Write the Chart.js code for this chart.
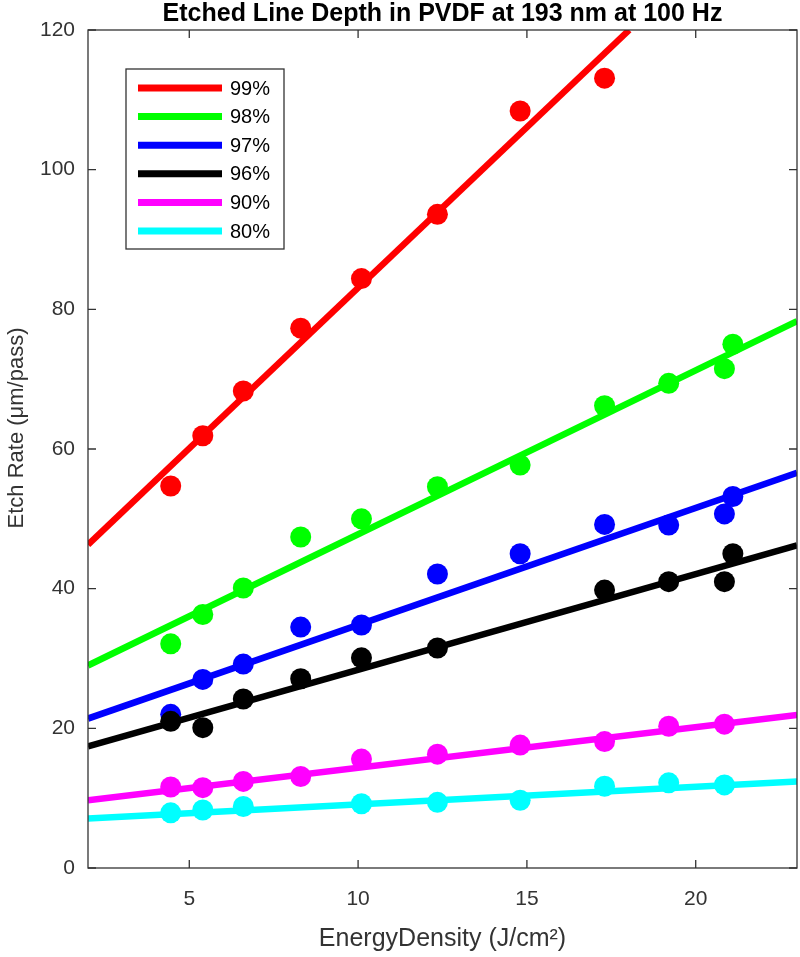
<!DOCTYPE html>
<html>
<head>
<meta charset="utf-8">
<script src="https://cdn.jsdelivr.net/npm/chart.js@4/dist/chart.umd.min.js"></script>
<style>
    html, body { margin: 0; padding: 0; background: #fff; overflow: hidden; }
    #wrap { width: 800px; height: 957px; }
</style>
</head>
<body>
<div id="wrap"><canvas id="etchChart"></canvas></div>
<script>
// --- DATA ---
const seriesNames = ["99%", "98%", "97%", "96%", "90%", "80%"];
const seriesColors = ["#ff0000", "#00ff00", "#0000ff", "#000000", "#ff00ff", "#00ffff"];

const x99 = [4.45, 5.4, 6.6, 8.3, 10.1, 12.35, 14.8, 17.3];
const y99 = [54.7, 61.9, 68.3, 77.3, 84.4, 93.6, 108.4, 113.1];

const x98 = [4.45, 5.4, 6.6, 8.3, 10.1, 12.35, 14.8, 17.3, 19.2, 20.85, 21.1];
const y98 = [32.1, 36.3, 40.1, 47.4, 50.0, 54.6, 57.7, 66.2, 69.4, 71.5, 75.0];

const x97 = [4.45, 5.4, 6.6, 8.3, 10.1, 12.35, 14.8, 17.3, 19.2, 20.85, 21.1];
const y97 = [22.0, 27.0, 29.2, 34.5, 34.8, 42.1, 45.0, 49.2, 49.1, 50.7, 53.2];

const x96 = [4.45, 5.4, 6.6, 8.3, 10.1, 12.35, 17.3, 19.2, 20.85, 21.1];
const y96 = [21.0, 20.1, 24.2, 27.1, 30.1, 31.5, 39.8, 41.0, 41.0, 45.0];

const x90 = [4.45, 5.4, 6.6, 8.3, 10.1, 12.35, 14.8, 17.3, 19.2, 20.85];
const y90 = [11.6, 11.5, 12.4, 13.1, 15.6, 16.3, 17.6, 18.1, 20.3, 20.6];

const x80 = [4.45, 5.4, 6.6, 10.1, 12.35, 14.8, 17.3, 19.2, 20.85];
const y80 = [7.9, 8.3, 8.8, 9.2, 9.4, 9.7, 11.7, 12.2, 11.9];

// fitted lines, endpoints as drawn
const fitStartX = [2, 2, 2, 2, 2, 2];
const fitStartY = [46.3, 29.0, 21.4, 17.4, 9.7, 7.1];
const fitEndX = [18.03, 23, 23, 23, 23, 23];
const fitEndY = [120, 78.3, 56.6, 46.2, 21.9, 12.4];

const xTicks = [5, 10, 15, 20];
const yTicks = [0, 20, 40, 60, 80, 100, 120];

const titleText = "Etched Line Depth in PVDF at 193 nm at 100 Hz";
const xTitle = "EnergyDensity (J/cm\u00B2)";
const yTitle = "Etch Rate (\u03BCm/pass)";

const FONT = "'Liberation Sans', Helvetica, Arial, sans-serif";
const AXIS_COLOR = "#333333";

const pointXs = [x99, x98, x97, x96, x90, x80];
const pointYs = [y99, y98, y97, y96, y90, y80];

document.addEventListener("DOMContentLoaded", () => {
    drawChart();
});

function buildDatasets() {
    const sets = [];
    seriesNames.forEach((name, i) => {
        const rank = seriesNames.length - 1 - i; // later series on top
        sets.push({
            label: name,
            isFit: true,
            data: [{ x: fitStartX[i], y: fitStartY[i] }, { x: fitEndX[i], y: fitEndY[i] }],
            borderColor: seriesColors[i],
            borderWidth: 6.5,
            pointRadius: 0,
            showLine: true,
            fill: false,
            clip: 0,
            order: rank * 2 + 1
        });
        sets.push({
            label: name + " data",
            data: pointXs[i].map((x, k) => ({ x: x, y: pointYs[i][k] })),
            backgroundColor: seriesColors[i],
            borderColor: seriesColors[i],
            borderWidth: 0,
            pointRadius: 10.5,
            showLine: false,
            order: rank * 2
        });
    });
    return sets;
}

// box, inward ticks, title, y label and legend
const framePlugin = {
    id: "frame",
    afterDraw(chart) {
        const ctx = chart.ctx;
        const a = chart.chartArea;
        const xs = chart.scales.x, ys = chart.scales.y;
        const tl = 8;
        ctx.save();
        ctx.strokeStyle = AXIS_COLOR;
        ctx.lineWidth = 1.3;
        ctx.strokeRect(a.left, a.top, a.right - a.left, a.bottom - a.top);
        ctx.beginPath();
        xTicks.forEach(v => {
            const px = xs.getPixelForValue(v);
            ctx.moveTo(px, a.bottom); ctx.lineTo(px, a.bottom - tl);
            ctx.moveTo(px, a.top); ctx.lineTo(px, a.top + tl);
        });
        yTicks.forEach(v => {
            const py = ys.getPixelForValue(v);
            ctx.moveTo(a.left, py); ctx.lineTo(a.left + tl, py);
            ctx.moveTo(a.right, py); ctx.lineTo(a.right - tl, py);
        });
        ctx.stroke();

        // title
        ctx.fillStyle = "#000";
        ctx.font = "bold 25px " + FONT;
        ctx.textAlign = "center";
        ctx.textBaseline = "alphabetic";
        ctx.fillText(titleText, (a.left + a.right) / 2, 21);

        // y axis title
        ctx.save();
        ctx.translate(23, 428);
        ctx.rotate(-Math.PI / 2);
        ctx.fillStyle = AXIS_COLOR;
        ctx.font = "22px " + FONT;
        ctx.textBaseline = "alphabetic";
        ctx.fillText(yTitle, 0, 0);
        ctx.restore();

        // legend
        const lx = 126, ly = 69, lw = 158, lh = 180;
        ctx.fillStyle = "#fff";
        ctx.fillRect(lx, ly, lw, lh);
        ctx.strokeStyle = AXIS_COLOR;
        ctx.lineWidth = 1.3;
        ctx.strokeRect(lx, ly, lw, lh);
        ctx.font = "20px " + FONT;
        ctx.textAlign = "left";
        ctx.textBaseline = "middle";
        const fits = chart.data.datasets.filter(d => d.isFit);
        fits.forEach((d, i) => {
            const rowY = 88 + i * 28.6;
            ctx.strokeStyle = d.borderColor;
            ctx.lineWidth = 7;
            ctx.beginPath();
            ctx.moveTo(138, rowY); ctx.lineTo(222, rowY);
            ctx.stroke();
            ctx.fillStyle = "#000";
            ctx.fillText(d.label, 230, rowY + 1);
        });
        ctx.restore();
    }
};

function drawChart() {
    new Chart(document.getElementById("etchChart"), {
        type: "scatter",
        data: { datasets: buildDatasets() },
        options: {
            responsive: true,
            maintainAspectRatio: false,
            animation: false,
            layout: { autoPadding: false, padding: { top: 30, right: 3, left: 0, bottom: 0 } },
            plugins: {
                legend: { display: false },
                title: { display: false },
                tooltip: { enabled: false }
            },
            scales: {
                x: {
                    type: "linear",
                    min: 2, max: 23,
                    afterBuildTicks: s => { s.ticks = xTicks.map(v => ({ value: v })); },
                    afterFit: s => { s.height = 89; s.paddingLeft = 0; s.paddingRight = 0; },
                    grid: { display: false, drawTicks: false },
                    border: { display: false },
                    ticks: { color: AXIS_COLOR, font: { family: FONT, size: 21 }, padding: 19, maxRotation: 0 },
                    title: { display: true, text: xTitle, color: AXIS_COLOR, font: { family: FONT, size: 25 }, padding: { top: 0, bottom: 3 } }
                },
                y: {
                    type: "linear",
                    min: 0, max: 120,
                    afterBuildTicks: s => { s.ticks = yTicks.map(v => ({ value: v })); },
                    afterFit: s => { s.width = 88; s.paddingTop = 0; s.paddingBottom = 0; },
                    grid: { display: false, drawTicks: false },
                    border: { display: false },
                    ticks: { color: AXIS_COLOR, font: { family: FONT, size: 21 }, padding: 13 }
                }
            }
        },
        plugins: [framePlugin]
    });
}
</script>
</body>
</html>
